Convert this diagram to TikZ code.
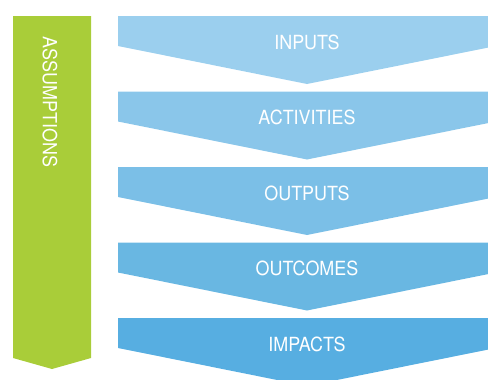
\documentclass[tikz,border=0pt]{standalone}
\usepackage{fontspec}
\setmainfont{TeX Gyre Heros}[FakeStretch=0.92]
\usetikzlibrary{math}

\definecolor{barGreen}{HTML}{A9CD39}
\definecolor{stepA}{HTML}{9BCFEE}
\definecolor{stepB}{HTML}{8AC6EA}
\definecolor{stepC}{HTML}{7BBFE7}
\definecolor{stepD}{HTML}{69B7E2}
\definecolor{stepE}{HTML}{57AEE1}

\begin{document}
\begin{tikzpicture}[x=1pt,y=-1pt,
  steplabel/.style={text=white,inner sep=0pt,font=\fontsize{19.5}{22}\selectfont}]

  \tikzmath{
    \xl    = 118;   % left edge of the chevrons
    \xr    = 496;   % right edge of the chevrons
    \xm    = 307;   % tip of the chevrons
    \band  = 30;    % height of the straight part
    \tip   = 68;    % distance from top to tip
    \gap   = 75.5;  % vertical distance between chevrons
    \ta    = 16;
    \tb    = \ta + \gap;
    \tc    = \ta + 2*\gap;
    \td    = \ta + 3*\gap;
    \te    = \ta + 4*\gap;
  }

  % picture frame
  \clip (0,0) rectangle (488,380);

  % Assumptions bar
  \fill[barGreen] (13,\ta) -- (91,\ta) -- (91,358) -- (52,369) -- (13,358) -- cycle;
  \node[steplabel, rotate=-90] (assumptions) at (50,102) {ASSUMPTIONS};

  % chevrons
  \fill[stepA] (\xl,\ta) -- (\xr,\ta) -- (\xr,\ta+\band) -- (\xm,\ta+\tip) -- (\xl,\ta+\band) -- cycle;
  \node[steplabel] (inputs) at (\xm,\ta+26) {INPUTS};

  \fill[stepB] (\xl,\tb) -- (\xr,\tb) -- (\xr,\tb+\band) -- (\xm,\tb+\tip) -- (\xl,\tb+\band) -- cycle;
  \node[steplabel] (activities) at (\xm,\tb+26) {ACTIVITIES};

  \fill[stepC] (\xl,\tc) -- (\xr,\tc) -- (\xr,\tc+\band) -- (\xm,\tc+\tip) -- (\xl,\tc+\band) -- cycle;
  \node[steplabel] (outputs) at (\xm,\tc+26) {OUTPUTS};

  \fill[stepD] (\xl,\td) -- (\xr,\td) -- (\xr,\td+\band) -- (\xm,\td+\tip) -- (\xl,\td+\band) -- cycle;
  \node[steplabel] (outcomes) at (\xm,\td+26) {OUTCOMES};

  \fill[stepE] (\xl,\te) -- (\xr,\te) -- (\xr,\te+\band) -- (\xm,\te+\tip) -- (\xl,\te+\band) -- cycle;
  \node[steplabel] (impacts) at (\xm,\te+26) {IMPACTS};

\end{tikzpicture}
\end{document}
